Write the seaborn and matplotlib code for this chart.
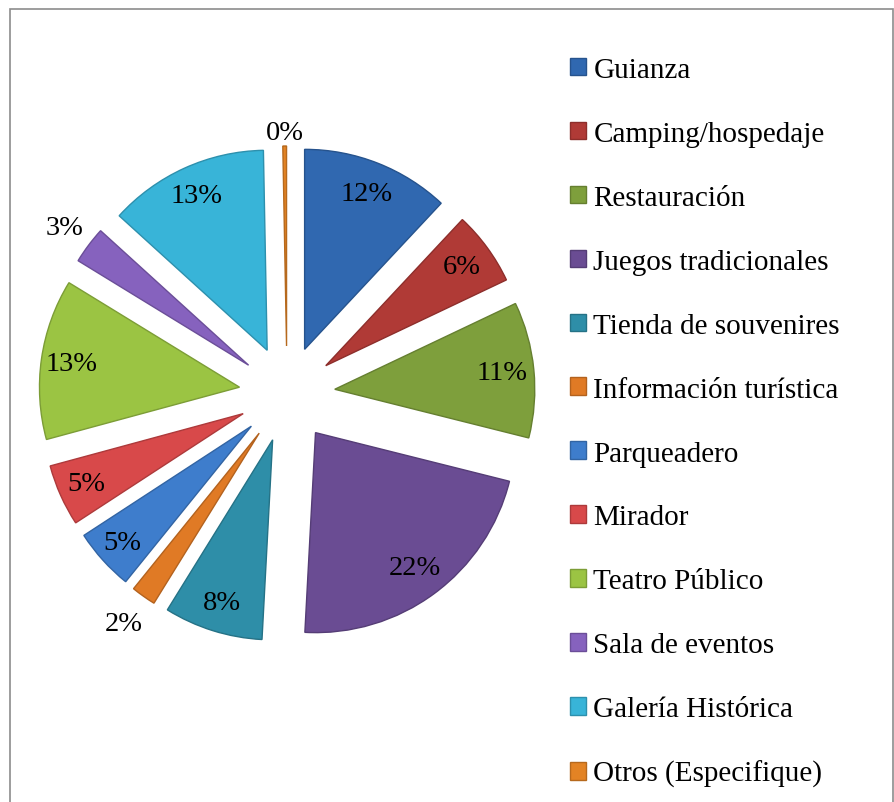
import matplotlib
matplotlib.use('agg')
import numpy as np
import matplotlib.pyplot as plt
import seaborn as sns
from matplotlib.patches import Rectangle

sns.set_theme(style='white')
plt.rcParams['font.family'] = ['Liberation Serif', 'DejaVu Serif']
plt.rcParams['text.color'] = 'black'

# data (percent of answers)
categories = ['Guianza', 'Camping/hospedaje', 'Restauración', 'Juegos tradicionales',
              'Tienda de souvenires', 'Información turística', 'Parqueadero', 'Mirador',
              'Teatro Público', 'Sala de eventos', 'Galería Histórica', 'Otros (Especifique)']
values = [12, 6, 11, 22, 8, 2, 5, 5, 13, 3, 13, 0.3]

colors = ['#3068B0', '#B03A36', '#7E9F3C', '#6A4C93', '#2E8EA8', '#E07A25',
          '#3E7DCC', '#D8494A', '#9BC443', '#8662BE', '#38B4D8', '#E38324']
# where each percentage sits, as a fraction of the radius from the slice's centre
label_dist = [0.84, 0.84, 0.84, 0.84, 0.85, 1.17, 0.87, 0.86, 0.85, 1.15, 0.85, 1.07]

W, H = 895, 803
fig = plt.figure(figsize=(W / 100, H / 100), dpi=100)

# gray frame around the chart area
fig.patches.append(Rectangle((10 / W, -0.01), (W - 12) / W, (H - 10) / H + 0.01,
                             transform=fig.transFigure, fill=False,
                             edgecolor='#8c8c8c', linewidth=1.2))

R = 200       # pie radius in px
L = 1.42
cx, cy = 287, 395
side = 2 * L * R
ax = fig.add_axes([(cx - side / 2) / W, (H - cy - side / 2) / H, side / W, side / H])

edge = [tuple(np.clip(np.array(matplotlib.colors.to_rgb(c)) * 0.8, 0, 1)) for c in colors]
wedges, texts, autotexts = ax.pie(values, colors=colors, startangle=90, counterclock=False,
                                  explode=[0.24] * len(values), autopct='%.0f%%',
                                  pctdistance=0.84,
                                  wedgeprops=dict(linewidth=1.0),
                                  textprops=dict(fontsize=20.5, color='black'))
for w, e in zip(wedges, edge):
    w.set_edgecolor(e)

for w, t, d in zip(wedges, autotexts, label_dist):
    a = np.deg2rad((w.theta1 + w.theta2) / 2)
    x0, y0 = w.center
    t.set_position((x0 + d * w.r * np.cos(a), y0 + d * w.r * np.sin(a)))

ax.set_xlim(-L, L)
ax.set_ylim(-L, L)
ax.set_aspect('equal')
ax.axis('off')

fig.legend(wedges, categories, loc='upper left', bbox_to_anchor=(570 / W, 1 - 58 / H),
           frameon=False, fontsize=21, handlelength=0.55, handleheight=0.55,
           handletextpad=0.25, labelspacing=1.30, borderpad=0, borderaxespad=0,
           labelcolor='black')

plt.savefig('out.png', dpi=100)
